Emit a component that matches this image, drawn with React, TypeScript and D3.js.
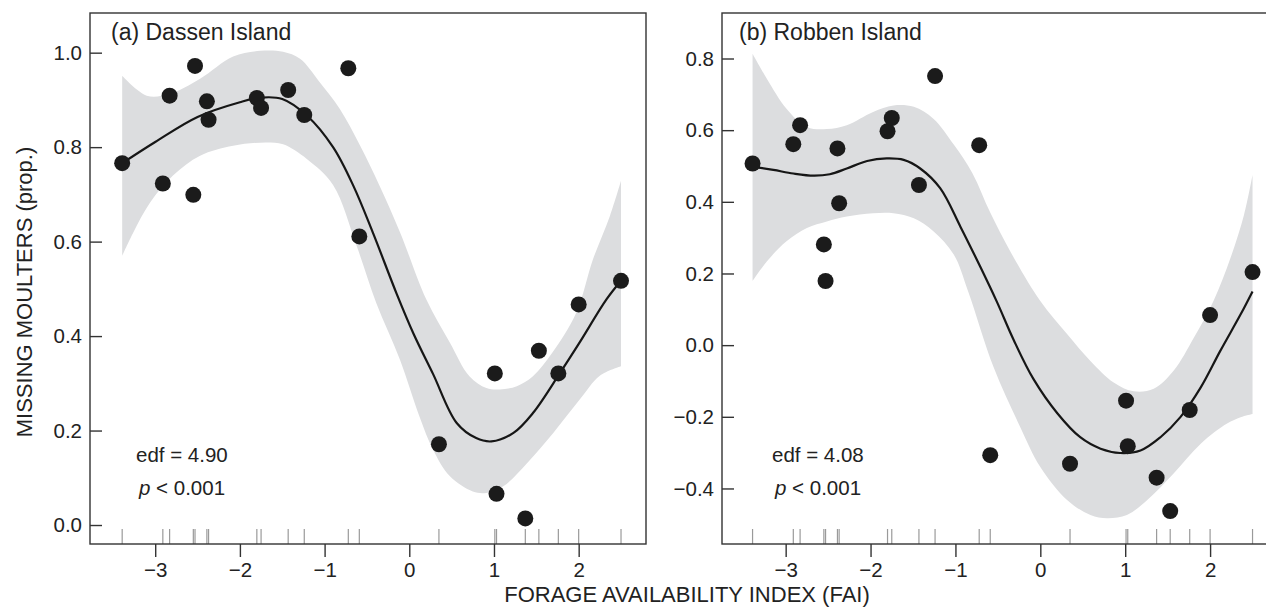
import React, { useEffect, useRef } from 'react';
import * as d3 from 'd3';

// forage availability index for each year (shared by both colonies)
const faiValues = [-3.39, -2.91, -2.83, -2.55, -2.53, -2.39, -2.37, -1.80, -1.75, -1.43, -1.24, -0.72, -0.59, 0.35, 1.01, 1.03, 1.37, 1.53, 1.76, 2.00, 2.50];

// proportion of missing moulters
const dassenMissing = [0.766, 0.723, 0.909, 0.699, 0.972, 0.897, 0.858, 0.904, 0.883, 0.921, 0.868, 0.967, 0.611, 0.171, 0.321, 0.066, 0.014, 0.369, 0.321, 0.467, 0.517];
const robbenMissing = [0.507, 0.561, 0.614, 0.281, 0.179, 0.549, 0.396, 0.597, 0.634, 0.447, 0.751, 0.558, -0.307, -0.331, -0.155, -0.282, -0.370, -0.463, -0.181, 0.084, 0.204];

// GAM fit and confidence band as [FAI, value]
const dassenFit = [[-3.39, 0.766], [-3.0, 0.811], [-2.5, 0.864], [-2.0, 0.895], [-1.75, 0.905], [-1.5, 0.902], [-1.21, 0.867], [-0.90, 0.80], [-0.66, 0.718], [-0.43, 0.619], [-0.15, 0.49], [0.05, 0.405], [0.28, 0.32], [0.56, 0.216], [0.79, 0.184], [0.97, 0.177], [1.23, 0.195], [1.46, 0.237], [1.78, 0.322], [2.01, 0.386], [2.33, 0.478], [2.50, 0.517]];
const dassenUpper = [[-3.39, 0.951], [-3.10, 0.909], [-2.83, 0.913], [-2.47, 0.945], [-2.08, 0.992], [-1.76, 1.004], [-1.49, 1.002], [-1.29, 0.987], [-1.06, 0.938], [-0.82, 0.881], [-0.58, 0.803], [-0.35, 0.718], [-0.11, 0.620], [0.20, 0.478], [0.48, 0.386], [0.71, 0.315], [0.91, 0.290], [1.07, 0.287], [1.27, 0.294], [1.46, 0.315], [1.69, 0.365], [1.97, 0.449], [2.17, 0.563], [2.37, 0.655], [2.50, 0.729]];
const dassenLower = [[-3.39, 0.570], [-3.26, 0.619], [-3.06, 0.683], [-2.79, 0.740], [-2.47, 0.782], [-2.08, 0.803], [-1.69, 0.810], [-1.49, 0.806], [-1.21, 0.775], [-0.90, 0.72], [-0.62, 0.59], [-0.39, 0.47], [-0.11, 0.350], [0.12, 0.230], [0.28, 0.160], [0.48, 0.103], [0.75, 0.071], [0.91, 0.068], [1.11, 0.082], [1.39, 0.131], [1.70, 0.195], [2.01, 0.265], [2.25, 0.316], [2.50, 0.336]];

const robbenFit = [[-3.39, 0.498], [-3.145, 0.489], [-2.91, 0.479], [-2.67, 0.473], [-2.48, 0.477], [-2.28, 0.493], [-2.04, 0.514], [-1.81, 0.521], [-1.61, 0.517], [-1.415, 0.493], [-1.18, 0.438], [-0.94, 0.33], [-0.71, 0.22], [-0.51, 0.12], [-0.315, 0.015], [-0.08, -0.095], [0.20, -0.19], [0.47, -0.257], [0.71, -0.289], [0.94, -0.301], [1.18, -0.294], [1.415, -0.257], [1.65, -0.201], [1.89, -0.118], [2.12, -0.016], [2.36, 0.086], [2.50, 0.15]];
const robbenUpper = [[-3.39, 0.813], [-3.22, 0.743], [-2.99, 0.660], [-2.75, 0.609], [-2.515, 0.603], [-2.28, 0.614], [-1.97, 0.651], [-1.73, 0.669], [-1.49, 0.665], [-1.26, 0.632], [-1.02, 0.56], [-0.80, 0.48], [-0.59, 0.37], [-0.35, 0.26], [0.0, 0.123], [0.315, 0.031], [0.59, -0.044], [0.864, -0.104], [1.10, -0.129], [1.336, -0.122], [1.572, -0.071], [1.81, 0.021], [2.04, 0.123], [2.24, 0.243], [2.40, 0.364], [2.50, 0.475]];
const robbenLower = [[-3.39, 0.179], [-3.22, 0.234], [-2.99, 0.290], [-2.75, 0.327], [-2.515, 0.345], [-2.28, 0.359], [-1.97, 0.368], [-1.73, 0.368], [-1.49, 0.354], [-1.26, 0.318], [-1.02, 0.253], [-0.85, 0.15], [-0.55, -0.062], [-0.236, -0.229], [0.0, -0.34], [0.315, -0.432], [0.59, -0.474], [0.786, -0.483], [1.02, -0.474], [1.26, -0.432], [1.57, -0.358], [1.89, -0.275], [2.2, -0.219], [2.36, -0.201], [2.50, -0.192]];

const xTicks = [-3, -2, -1, 0, 1, 2];
const dassenTicks = [0, 0.2, 0.4, 0.6, 0.8, 1.0];
const robbenTicks = [-0.4, -0.2, 0, 0.2, 0.4, 0.6, 0.8];

const FONT = "'Liberation Sans', Arial, Helvetica, sans-serif";
const TOP = 13;
const BOTTOM = 544;
const PANEL_W = 556;

const panels = [
    {
        title: "(a) Dassen Island", left: 90, titleX: 111, statX: 136,
        xDomain: [-3.77, 2.795], yDomain: [-0.0402, 1.084], yTicks: dassenTicks,
        values: dassenMissing, fit: dassenFit, upper: dassenUpper, lower: dassenLower, edf: "edf = 4.90",
    },
    {
        title: "(b) Robben Island", left: 722, titleX: 739, statX: 772,
        xDomain: [-3.75, 2.80], yDomain: [-0.555, 0.927], yTicks: robbenTicks,
        values: robbenMissing, fit: robbenFit, upper: robbenUpper, lower: robbenLower, edf: "edf = 4.08",
    },
];

function drawPanel(svg: any, p: any) {
    const x = d3.scaleLinear().domain(p.xDomain).range([p.left, p.left + PANEL_W]);
    const y = d3.scaleLinear().domain(p.yDomain).range([BOTTOM, TOP]);
    const g = svg.append("g");

    const smooth = d3.line<number[]>()
        .x(d => x(d[0]))
        .y(d => y(d[1]))
        .curve(d3.curveCatmullRom.alpha(0.5));

    // confidence band: upper edge forward, lower edge back
    const upperPath = smooth(p.upper) as string;
    const lowerPath = smooth(p.lower.slice().reverse()) as string;
    g.append("path")
        .attr("d", upperPath + "L" + lowerPath.slice(1) + "Z")
        .attr("fill", "#dcdddf");

    // rug
    g.append("g")
        .selectAll("line")
        .data(faiValues)
        .enter()
        .append("line")
        .attr("x1", (d: number) => x(d))
        .attr("x2", (d: number) => x(d))
        .attr("y1", BOTTOM)
        .attr("y2", BOTTOM - 15)
        .attr("stroke", "#9a9a9a")
        .attr("stroke-width", 1.2);

    g.append("path")
        .attr("d", smooth(p.fit))
        .attr("fill", "none")
        .attr("stroke", "#161616")
        .attr("stroke-width", 2.2);

    g.append("g")
        .selectAll("circle")
        .data(p.values)
        .enter()
        .append("circle")
        .attr("cx", (d: number, i: number) => x(faiValues[i]))
        .attr("cy", (d: number) => y(d))
        .attr("r", 8)
        .attr("fill", "#1b1b1b");

    g.append("rect")
        .attr("x", p.left)
        .attr("y", TOP)
        .attr("width", PANEL_W)
        .attr("height", BOTTOM - TOP)
        .attr("fill", "none")
        .attr("stroke", "#333")
        .attr("stroke-width", 1.4);

    const xAxis = g.append("g")
        .attr("transform", `translate(0,${BOTTOM})`)
        .call(d3.axisBottom(x).tickValues(xTicks).tickFormat(d3.format("d")).tickSizeInner(13).tickSizeOuter(0).tickPadding(5));
    const yAxis = g.append("g")
        .attr("transform", `translate(${p.left},0)`)
        .call(d3.axisLeft(y).tickValues(p.yTicks).tickFormat(d3.format(".1f")).tickSizeInner(-12).tickSizeOuter(0).tickPadding(8));

    [xAxis, yAxis].forEach(ax => {
        ax.select(".domain").remove();
        ax.attr("font-family", FONT).attr("font-size", 20.5).style("color", "#222");
        ax.selectAll("line").attr("stroke", "#333").attr("stroke-width", 1.4);
    });

    g.append("text")
        .attr("x", p.titleX)
        .attr("y", 40)
        .attr("font-family", FONT)
        .attr("font-size", 23)
        .attr("fill", "#222")
        .text(p.title);

    g.append("text")
        .attr("x", p.statX)
        .attr("y", 462)
        .attr("font-family", FONT)
        .attr("font-size", 20.5)
        .attr("fill", "#222")
        .text(p.edf);

    const pText = g.append("text")
        .attr("x", p.statX + 3)
        .attr("y", 495)
        .attr("font-family", FONT)
        .attr("font-size", 20.5)
        .attr("fill", "#222");
    pText.append("tspan").attr("font-style", "italic").text("p");
    pText.append("tspan").text(" < 0.001");
}

export default function App() {
    const ref = useRef<SVGSVGElement>(null);

    useEffect(() => {
        const svg = d3.select(ref.current);
        svg.selectAll("*").remove();

        panels.forEach(p => drawPanel(svg, p));

        svg.append("text")
            .attr("x", 687)
            .attr("y", 602)
            .attr("text-anchor", "middle")
            .attr("font-family", FONT)
            .attr("font-size", 22)
            .attr("fill", "#222")
            .text("FORAGE AVAILABILITY INDEX (FAI)");

        svg.append("text")
            .attr("transform", "translate(32,292) rotate(-90)")
            .attr("text-anchor", "middle")
            .attr("font-family", FONT)
            .attr("font-size", 22)
            .attr("fill", "#222")
            .text("MISSING MOULTERS (prop.)");
    }, []);

    return (
        <svg ref={ref} width={1266} height={609}
            style={{ position: 'absolute', left: 0, top: 0, background: '#fff' }} />
    );
}
